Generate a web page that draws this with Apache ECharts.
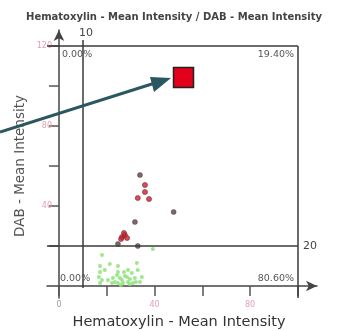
<!DOCTYPE html>
<html><head><meta charset="utf-8">
<script src="https://cdn.jsdelivr.net/npm/echarts@6/dist/echarts.min.js"></script>
<style>html,body{margin:0;padding:0;background:#fff}#c{width:338px;height:331px}</style>
</head><body><div id="c"></div>
<script>
// Data (Hematoxylin mean intensity, DAB mean intensity)
var redPoints = [[36,50.5],[36,47],[33,44],[37.7,43.5],[26.4,24.5],[27.6,25.5],[28.5,24],[26,23.5],[27.2,26.5]];
var darkPoints = [[33.9,55.5],[48,37],[31.8,32],[24.7,21],[33,20]];
var greenPoints = [[18,15.5],[21.3,11],[24.7,10],[27.2,7],[32.6,11.5],[39.3,18.5],[17.2,7],[16.7,4.5],[18,3],[22.6,4],[24.3,5.5],[26.4,3],[28.5,4.5],[30.5,6.5],[31.8,4],[28.9,2],[24.7,1.5],[23.4,2],[26.8,1.5],[31,1.5],[34.7,4.5],[33,8],[28.9,8],[20.5,3],[25.5,4],[27.6,5],[29.7,3.5],[22.2,1.5],[32.2,2],[17.2,10],[19.2,8],[33.9,2],[24.7,7],[29.7,1],[25.9,0.5],[17.2,1.5]];
var xThreshold = 10, yThreshold = 20;
var xTickValues = [0,20,40,60,80,100];
var yTickValues = [20,40,60,80,100,120];
var xLabelValues = [0,40,80];
var yLabelValues = [40,80,120];
var quadrantLabels = ['0.00%','19.40%','0.00%','80.60%'];
var titleText = 'Hematoxylin - Mean Intensity / DAB - Mean Intensity';
var xName = 'Hematoxylin - Mean Intensity';
var yName = 'DAB - Mean Intensity';

var chart = echarts.init(document.getElementById('c'), null, {renderer:'canvas'});
var axisCol = '#555';
var lineCol = '#3a3a3a';
var font = 'DejaVu Sans';
chart.setOption({
  animation:false,
  grid:{left:47,right:21,top:30,bottom:33},
  xAxis:{type:'value',min:-5,max:108,
    axisLine:{onZero:true,symbol:['none','arrow'],symbolSize:[8,11],lineStyle:{color:'#444',width:1.5}},
    axisTick:{customValues:xTickValues,length:10,lineStyle:{color:axisCol,width:1.5}},
    axisLabel:{customValues:xLabelValues,margin:3,fontSize:8,fontFamily:font,
      formatter:function(v){return v===0?'{g|0}':'{p|'+v+'}';},
      rich:{g:{color:'#9a9a9a',fontSize:8,fontFamily:font},p:{color:'#e3a2ae',fontSize:8,fontFamily:font}}},
    splitLine:{show:false}},
  yAxis:{type:'value',min:-6,max:128,
    axisLine:{onZero:true,symbol:['none','arrow'],symbolSize:[8,11],lineStyle:{color:'#444',width:1.5}},
    axisTick:{customValues:yTickValues,length:10,lineStyle:{color:axisCol,width:1.5}},
    axisLabel:{customValues:yLabelValues,margin:-5,fontSize:8,fontFamily:font,color:'#e3a2ae'},
    splitLine:{show:false}},
  series:[
    {type:'scatter',data:greenPoints,symbolSize:4,itemStyle:{color:'#93e47f',opacity:0.9},z:3,
      markLine:{silent:true,symbol:'none',label:{show:false},animation:false,
        data:[
          [{coord:[-5,120]},{coord:[100,120]}],
          [{coord:[100,120]},{coord:[100,-6]}],
          [{coord:[-5,yThreshold]},{coord:[100,yThreshold]}],
          [{coord:[xThreshold,123]},{coord:[xThreshold,-1]}]
        ],
        lineStyle:{color:lineCol,width:1.5,type:'solid'}}},
    {type:'scatter',data:redPoints,symbolSize:5,itemStyle:{color:'#cf1f30',borderColor:'#7a2a32',borderWidth:0.8},z:4},
    {type:'scatter',data:darkPoints,symbolSize:5,itemStyle:{color:'#5b4148',borderColor:'#3d2a30',borderWidth:0.5},z:4}
  ]
});

var txt = function(x,y,t,opt){return {type:'text',x:x,y:y,z:100,style:Object.assign({text:t,fill:'#555',fontSize:9.5,fontFamily:font,align:'left',verticalAlign:'middle'},opt||{})};};
chart.setOption({graphic:[
  txt(174,17,titleText,{align:'center',fontWeight:'bold',fontSize:10,fill:'#444'}),
  txt(86,33,String(xThreshold),{align:'center',fontSize:11,fill:'#444'}),
  txt(303,246,String(yThreshold),{fontSize:11,fill:'#444'}),
  txt(62,55,quadrantLabels[0]),
  txt(294,55,quadrantLabels[1],{align:'right'}),
  txt(60,279,quadrantLabels[2]),
  txt(294,279,quadrantLabels[3],{align:'right'}),
  txt(179,322,xName,{align:'center',fontSize:14.5,fill:'#333'}),
  {type:'text',x:20,y:166,rotation:Math.PI/2,z:100,style:{text:yName,fill:'#555',fontSize:13.5,fontFamily:font,align:'center',verticalAlign:'middle'}},
  {type:'line',z:100,shape:{x1:0,y1:132,x2:155,y2:83},style:{stroke:'#2b5761',lineWidth:3}},
  {type:'polygon',z:100,shape:{points:[[171,78],[150,77],[154,92]]},style:{fill:'#2b5761'}},
  {type:'rect',z:100,shape:{x:173.5,y:67.5,width:20,height:20},style:{fill:'#e2001a',stroke:'#222',lineWidth:1.5}}
]});
</script></body></html>
